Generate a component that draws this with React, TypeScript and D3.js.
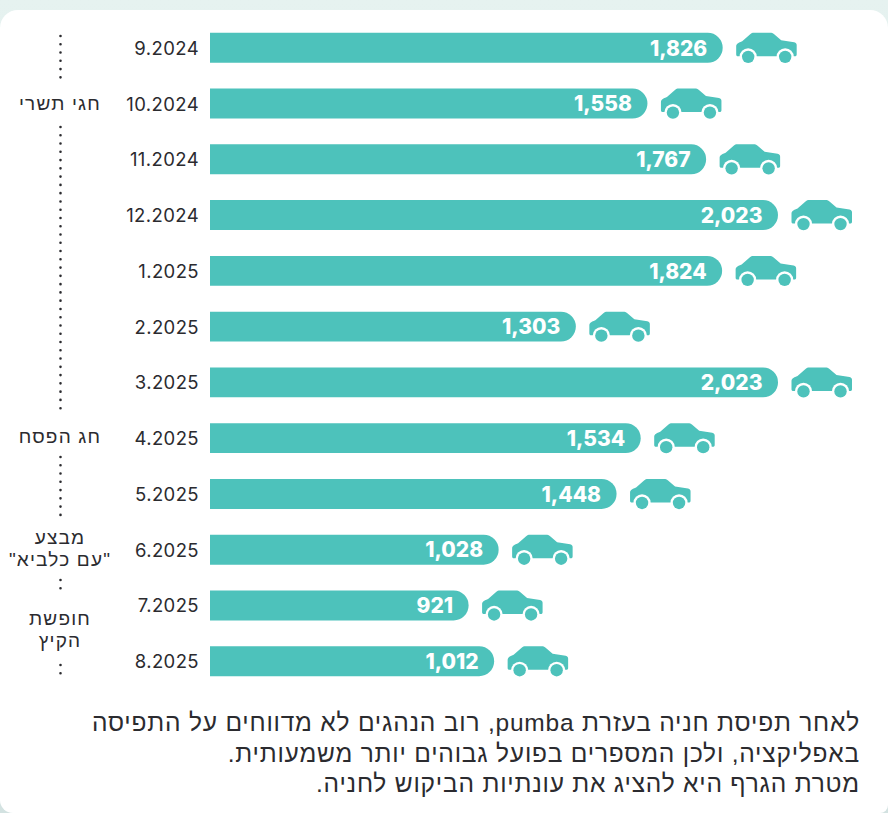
import React from "react";
import * as d3 from "d3";

const months = ["9.2024","10.2024","11.2024","12.2024","1.2025","2.2025","3.2025","4.2025","5.2025","6.2025","7.2025","8.2025"];
const values = [1826,1558,1767,2023,1824,1303,2023,1534,1448,1028,921,1012];
const events = [
  { lines: ["חגי תשרי"], y: 105 },
  { lines: ["חג הפסח"], y: 438 },
  { lines: ["מבצע", "\"עם כלביא\""], y: 539 },
  { lines: ["חופשת", "הקיץ"], y: 620 },
];
const dotRuns = [[36,78],[127,416],[457,515],[580,590],[665,676]];
const note = [
  "לאחר תפיסת חניה בעזרת pumba, רוב הנהגים לא מדווחים על התפיסה",
  "באפליקציה, ולכן המספרים בפועל גבוהים יותר משמעותית.",
  "מטרת הגרף היא להציג את עונתיות הביקוש לחניה.",
];
const TEAL = "#4dc2bb";
const INK = "#2b2b2f";
const FONT = "'Liberation Sans','Open Sans',sans-serif";
const LATIN = "Inter,'Open Sans',sans-serif";

const x = d3.scaleLinear().domain([0, 2023]).range([210, 778]);
const y = d3.scaleBand<string>().domain(months).range([20, 689]).paddingInner(0.463).paddingOuter(0.23);
const fmt = d3.format(",");

const CAR = "M0 14 C0 11.5 1 10.5 6 8.5 L14 1.5 C15.5 0.3 16 0 18 0 L34 0 C35.5 0 36.5 0.3 38 1.5 L45 7.5 L58 9.5 C60 10 60.5 11 60.5 12.5 L60.5 21.5 C60.5 23 60 23.5 58.5 23.5 L2 23.5 C0.5 23.5 0 23 0 21.5 Z";

function Car({ tx, ty }: { tx: number; ty: number }) {
  return (
    <g transform={`translate(${tx},${ty})`}>
      <path d={CAR} fill={TEAL} />
      {[12, 49].map((c) => (
        <g key={c}>
          <circle cx={c} cy={24} r={8.6} fill="#fff" />
          <circle cx={c} cy={24} r={6.2} fill={TEAL} />
        </g>
      ))}
    </g>
  );
}

function cardPath() {
  const p = d3.path();
  const [l, t, r, b] = [0, 10, 888, 813];
  p.moveTo(l + 18, t);
  p.lineTo(r - 18, t);
  p.arcTo(r, t, r, t + 18, 18);
  p.lineTo(r, b - 8);
  p.arcTo(r, b, r - 8, b, 8);
  p.lineTo(l + 13, b);
  p.arcTo(l, b, l, b - 13, 13);
  p.lineTo(l, t + 18);
  p.arcTo(l, t, l + 18, t, 18);
  p.closePath();
  return p.toString();
}

export default function App() {
  const h = y.bandwidth();
  return (
    <svg width={888} height={813} style={{ position: "absolute", left: 0, top: 0, display: "block" }}>
      <defs>
        <linearGradient id="bg" x1="0" x2="0" y1="0" y2="1">
          <stop offset="0" stopColor="#e6f2f0" />
          <stop offset="1" stopColor="#d3e2e1" />
        </linearGradient>
      </defs>
      <rect width={888} height={813} fill="url(#bg)" />
      <path d={cardPath()} fill="#fff" />
      {dotRuns.map(([a, b], i) => (
        <line key={i} x1={60.5} x2={60.5} y1={a} y2={b} stroke={INK} strokeWidth={2.6} strokeLinecap="round" strokeDasharray="0 8.27" />
      ))}
      {events.map((e, i) =>
        e.lines.map((l, j) => (
          <text key={`${i}-${j}`} x={60} y={e.y + j * 22} textAnchor="middle" dominantBaseline="middle" fontFamily={FONT} fontSize={19} letterSpacing={1.2} fill={INK} direction="rtl">{l}</text>
        ))
      )}
      {months.map((m, i) => {
        const by = y(m)!;
        const xe = x(values[i]);
        const r = h / 2;
        const p = d3.path();
        p.moveTo(210, by);
        p.lineTo(xe - r, by);
        p.arc(xe - r, by + r, r, -Math.PI / 2, Math.PI / 2);
        p.lineTo(210, by + h);
        p.closePath();
        return (
          <g key={m}>
            <text x={199} y={by + r + 2} textAnchor="end" dominantBaseline="middle" fontFamily={LATIN} fontSize={18.5} letterSpacing={0.4} fill={INK}>{m}</text>
            <path d={p.toString()} fill={TEAL} />
            <text x={xe - 15.5} y={by + r + 2} textAnchor="end" dominantBaseline="middle" fontFamily={LATIN} fontWeight={800} fontSize={21} fill="#fff">{fmt(values[i])}</text>
            <Car tx={xe + 13.5} ty={by} />
          </g>
        );
      })}
      {note.map((l, i) => (
        <text key={i} x={860} y={725 + i * 30.5} textAnchor="start" dominantBaseline="middle" direction="rtl" fontFamily={FONT} fontSize={24.5} letterSpacing={0.8} fill={INK}>{l}</text>
      ))}
    </svg>
  );
}
